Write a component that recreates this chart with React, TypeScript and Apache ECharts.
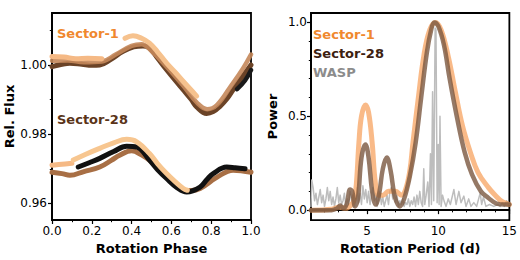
import React, { useEffect, useRef } from "react";
import * as echarts from "echarts";

// ---------- Left panel: phase-folded light curves ----------
const phaseTicks = [0, 0.2, 0.4, 0.6, 0.8, 1.0];
const phaseMinor = [0.1, 0.3, 0.5, 0.7, 0.9];
const fluxTicks = [0.96, 0.98, 1.0];
const fluxMinor = [0.97, 0.99, 1.01];

// Sector-1 (upper group)
const s1Dark = [[0,0.9995],[0.05,1.0002],[0.09,1.0005],[0.15,1.0002],[0.2,0.9999],[0.24,1.0],[0.29,1.0014],[0.357,1.0039],[0.41,1.0052],[0.457,1.0055],[0.49,1.0049],[0.53,1.002],[0.576,0.9986],[0.62,0.9955],[0.66,0.9928],[0.7,0.99],[0.727,0.9879],[0.777,0.986],[0.81,0.9865],[0.844,0.988],[0.88,0.9903],[0.91,0.9928],[0.95,0.996],[1.0,1.0]];
const s1Tan = [[0,1.0012],[0.08,1.0013],[0.16,1.0008],[0.25,1.001],[0.32,1.003],[0.4,1.0055],[0.45,1.006],[0.5,1.004],[0.576,0.9995],[0.66,0.994],[0.73,0.989],[0.78,0.9872],[0.83,0.9885],[0.9,0.994],[0.96,0.999],[1.0,1.003]];
const s1PeachA = [[0,1.0024],[0.06,1.0023],[0.12,1.0018],[0.18,1.0019],[0.25,1.0018]];
const s1PeachB = [[0.367,1.0077],[0.407,1.0084],[0.45,1.0077],[0.49,1.0063],[0.53,1.0038],[0.576,1.0005],[0.62,0.9978],[0.66,0.9952],[0.727,0.991]];
const s1Black = [[0.93,0.993],[0.97,0.9955],[1.0,0.9985]];

// Sector-28 (lower group)
const s28Brown = [[0,0.969],[0.05,0.9686],[0.09,0.9681],[0.16,0.9692],[0.24,0.9705],[0.3,0.9725],[0.34,0.9739],[0.4,0.9752],[0.45,0.974],[0.5,0.972],[0.576,0.9678],[0.62,0.9652],[0.66,0.9638],[0.7,0.9637],[0.744,0.9643],[0.83,0.9676],[0.91,0.9696],[1.0,0.969]];
const s28Black = [[0.132,0.9705],[0.19,0.9718],[0.24,0.973],[0.31,0.975],[0.375,0.9765],[0.426,0.9763],[0.49,0.9725],[0.53,0.9698],[0.576,0.9672],[0.63,0.9645],[0.677,0.9633],[0.744,0.9647],[0.78,0.967],[0.81,0.9686],[0.878,0.9705],[0.92,0.9703],[0.97,0.97]];
const s28PeachA = [[0,0.971],[0.05,0.9713],[0.1,0.9716]];
const s28PeachB = [[0.107,0.9725],[0.17,0.9742],[0.24,0.9759],[0.31,0.9775],[0.375,0.9785],[0.426,0.9778],[0.49,0.9744],[0.53,0.9715],[0.576,0.9686],[0.62,0.9662],[0.66,0.9643],[0.68,0.9638]];

// ---------- Right panel: periodograms ----------
const periodTicks = [5, 10, 15];
const periodMinor = [2, 3, 4, 6, 7, 8, 9, 11, 12, 13, 14];
const powerTicks = [0, 0.5, 1.0];
const powerMinor = [0.1, 0.2, 0.3, 0.4, 0.6, 0.7, 0.8, 0.9];

const sector1Power = [[1.05,0],[2.5,0.005],[3.0,0.015],[3.5,0.01],[3.9,0.03],[4.1,0.06],[4.25,0.15],[4.42,0.36],[4.6,0.5],[4.88,0.56],[5.1,0.52],[5.35,0.36],[5.57,0.15],[5.8,0.08],[6.1,0.08],[6.5,0.1],[7.0,0.1],[7.4,0.08],[7.7,0.11],[8.0,0.21],[8.22,0.36],[8.6,0.6],[9.0,0.83],[9.4,0.96],[9.8,1.0],[10.2,0.96],[10.7,0.82],[11.2,0.63],[11.7,0.45],[12.25,0.31],[12.8,0.2],[13.53,0.12],[14.0,0.08],[14.5,0.045],[15,0.03]];
const sector28Power = [[1.05,0],[2.5,0],[2.9,0.01],[3.1,0.025],[3.3,0.01],[3.55,0.03],[3.8,0.11],[3.95,0.1],[4.15,0.02],[4.35,0.06],[4.6,0.28],[4.88,0.35],[5.1,0.28],[5.35,0.1],[5.6,0.03],[5.85,0.09],[6.1,0.22],[6.38,0.28],[6.65,0.21],[6.95,0.07],[7.3,0.02],[7.6,0.06],[8.0,0.18],[8.41,0.36],[8.8,0.6],[9.2,0.84],[9.5,0.96],[9.72,1.0],[10.0,0.98],[10.4,0.88],[10.8,0.7],[11.3,0.5],[11.85,0.31],[12.37,0.19],[13.0,0.1],[13.53,0.065],[14.1,0.035],[14.68,0.03],[15,0.03]];
const waspPower = [[1.05,0.02],[1.1,0.16],[1.2,0.12],[1.3,0.05],[1.4,0.09],[1.5,0.03],[1.6,0.07],[1.7,0.11],[1.8,0.04],[1.9,0.08],[2.0,0.02],[2.1,0.06],[2.2,0.12],[2.3,0.05],[2.4,0.1],[2.5,0.03],[2.6,0.07],[2.7,0.02],[2.8,0.06],[2.9,0.12],[3.0,0.04],[3.1,0.08],[3.2,0.03],[3.3,0.05],[3.4,0.09],[3.5,0.02],[3.6,0.06],[3.7,0.03],[3.8,0.1],[3.9,0.05],[4.0,0.08],[4.1,0.02],[4.2,0.06],[4.3,0.12],[4.4,0.04],[4.5,0.09],[4.6,0.03],[4.7,0.13],[4.8,0.06],[4.9,0.11],[5.0,0.04],[5.1,0.1],[5.2,0.03],[5.3,0.08],[5.4,0.12],[5.5,0.05],[5.6,0.09],[5.7,0.02],[5.8,0.06],[5.9,0.1],[6.0,0.03],[6.1,0.07],[6.2,0.02],[6.3,0.05],[6.4,0.08],[6.5,0.03],[6.6,0.1],[6.7,0.12],[6.8,0.06],[6.9,0.11],[7.0,0.04],[7.1,0.08],[7.2,0.02],[7.3,0.05],[7.4,0.03],[7.5,0.06],[7.6,0.02],[7.7,0.04],[7.8,0.03],[7.9,0.06],[8.0,0.02],[8.1,0.05],[8.2,0.03],[8.3,0.07],[8.4,0.02],[8.5,0.08],[8.6,0.03],[8.7,0.1],[8.8,0.04],[8.9,0.02],[8.98,0.22],[9.05,0.03],[9.15,0.08],[9.26,0.15],[9.35,0.02],[9.45,0.3],[9.52,0.03],[9.6,0.63],[9.68,0.05],[9.78,0.97],[9.84,0.96],[9.92,0.04],[10.0,0.35],[10.06,0.03],[10.12,0.5],[10.2,0.02],[10.3,0.08],[10.41,0.048],[10.55,0.02],[10.7,0.06],[10.85,0.03],[11.1,0.11],[11.25,0.03],[11.45,0.1],[11.6,0.04],[11.8,0.075],[11.95,0.02],[12.14,0.06],[12.3,0.02],[12.5,0.04],[12.7,0.02],[12.95,0.092],[13.05,0.03],[13.18,0.07],[13.35,0.02],[13.6,0.03],[13.9,0.02],[14.2,0.03],[14.35,0.02],[14.5,0.04],[14.65,0.02],[14.8,0.05],[15,0.03]];

const FONT = "DejaVu Sans";

function lineSeries(data: number[][], color: string, width: number, xi: number, yi: number, opacity = 1, z = 2) {
  return {
    type: "line",
    data,
    xAxisIndex: xi,
    yAxisIndex: yi,
    symbol: "none",
    smooth: 0.4,
    z,
    lineStyle: { color, width, opacity, cap: "round", join: "round" },
    silent: true,
  };
}

function axisPair(kind: "x" | "y", gridIndex: number, min: number, max: number, major: number[], minor: number[], fmt: (v: number) => string, name: string, nameGap: number, labelMargin: number) {
  const main: any = {
    type: "value",
    gridIndex,
    min,
    max,
    name,
    nameLocation: "middle",
    nameGap,
    nameTextStyle: { fontFamily: FONT, fontWeight: "bold", fontSize: 13, color: "#000" },
    splitLine: { show: false },
    axisLine: { show: true, lineStyle: { color: "#000", width: 1.8 } },
    axisTick: { show: true, inside: false, length: 4, lineStyle: { color: "#000", width: 1.2 }, customValues: major },
    axisLabel: { show: true, margin: kind === "x" ? 6 : 5, fontFamily: FONT, fontSize: 12, color: "#000", customValues: major, formatter: fmt },
  };
  main.axisLabel.margin = labelMargin;
  const minorAx: any = {
    type: "value",
    gridIndex,
    min,
    max,
    splitLine: { show: false },
    axisLine: { show: false },
    axisLabel: { show: false },
    axisTick: { show: true, inside: false, length: 2.2, lineStyle: { color: "#000", width: 1 }, customValues: minor },
  };
  if (kind === "x") { main.position = "bottom"; minorAx.position = "bottom"; }
  else { main.position = "left"; minorAx.position = "left"; }
  return [main, minorAx];
}

export default function App() {
  const ref = useRef<HTMLDivElement>(null);
  useEffect(() => {
    document.body.style.margin = "0";
    if (!ref.current) return;
    const chart = echarts.init(ref.current, undefined, { renderer: "svg" });
    const [x0, x0m] = axisPair("x", 0, 0, 1, phaseTicks, phaseMinor, (v) => v.toFixed(1), "Rotation Phase", 20, 5);
    const [y0, y0m] = axisPair("y", 0, 0.9552, 1.015, fluxTicks, fluxMinor, (v) => v.toFixed(2), "Rel. Flux", 36, 5);
    const [x1, x1m] = axisPair("x", 1, 1.05, 15, periodTicks, periodMinor, (v) => String(Math.round(v)), "Rotation Period (d)", 20, 5);
    const [y1, y1m] = axisPair("y", 1, -0.053, 1.05, powerTicks, powerMinor, (v) => v.toFixed(1), "Power", 32, 4);
    const textEl = (x: number, y: number, text: string, fill: string) => ({
      type: "text",
      left: x,
      top: y,
      silent: true,
      z: 100,
      style: { text, fill, fontFamily: FONT, fontWeight: "bold", fontSize: 13 },
    });
    chart.setOption({
      animation: false,
      backgroundColor: "#fff",
      grid: [
        { left: 52, top: 13, width: 199, height: 207, show: true, borderColor: "#000", borderWidth: 1.8, backgroundColor: "transparent" },
        { left: 311, top: 13, width: 199, height: 208, show: true, borderColor: "#000", borderWidth: 1.8, backgroundColor: "transparent" },
      ],
      xAxis: [x0, x0m, x1, x1m],
      yAxis: [y0, y0m, y1, y1m],
      series: [
        // left – Sector-1 group
        lineSeries(s1Dark, "#6b4327", 5, 0, 0, 1, 2),
        lineSeries(s1Tan, "#c4875a", 4.5, 0, 0, 0.9, 3),
        lineSeries(s1Black, "#1a1a1a", 4.5, 0, 0, 1, 3),
        lineSeries(s1PeachA, "#f5b985", 5, 0, 0, 1, 4),
        lineSeries(s1PeachB, "#f6c28e", 5, 0, 0, 1, 4),
        // left – Sector-28 group
        lineSeries(s28Brown, "#a86f45", 5, 0, 0, 1, 2),
        lineSeries(s28Black, "#111111", 5, 0, 0, 1, 3),
        lineSeries(s28PeachA, "#f5b985", 5, 0, 0, 1, 4),
        lineSeries(s28PeachB, "#f7c690", 5, 0, 0, 1, 4),
        // right – periodograms
        { ...lineSeries(waspPower, "#bdbdbd", 1.5, 2, 2, 1, 2), smooth: false },
        lineSeries(sector1Power, "#f79f5a", 5, 2, 2, 0.72, 3),
        lineSeries(sector28Power, "#7a5740", 4.5, 2, 2, 0.8, 4),
      ],
      graphic: [
        textEl(57, 27, "Sector-1", "#f0882e"),
        textEl(57, 113, "Sector-28", "#5a3418"),
        textEl(313, 28, "Sector-1", "#f0882e"),
        textEl(313, 47, "Sector-28", "#3d2110"),
        textEl(313, 66, "WASP", "#8c8c8c"),
      ],
    });
    return () => chart.dispose();
  }, []);
  return <div ref={ref} style={{ width: 520, height: 260 }} />;
}
